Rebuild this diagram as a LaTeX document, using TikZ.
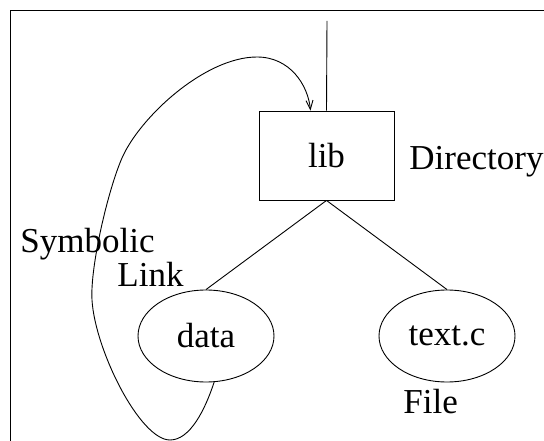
\documentclass[tikz,border=0pt]{standalone}
\usepackage{fontspec}
\setmainfont{Liberation Serif}
\usetikzlibrary{arrows.meta,shapes.geometric}
\begin{document}
\begin{tikzpicture}[x=1pt,y=-1pt,line width=0.9pt,
  every node/.style={font=\fontsize{35}{42}\selectfont},
  dirbox/.style={draw,rectangle,minimum width=135pt,minimum height=89pt,inner sep=0pt},
  fileoval/.style={draw,ellipse,minimum width=136pt,minimum height=92pt,inner sep=0pt},
  caption/.style={anchor=base west,inner sep=0pt},
  link/.style={-{Straight Barb[length=9pt,width=7pt]}}]
  \useasboundingbox (0,0) rectangle (544,441);
  % frame edges
  \draw (10,441) -- (10,10) -- (544,10);

  % tree nodes
  \node[dirbox] (lib) at (326.5,155.5) {lib};
  \node[fileoval] (data) at (206,336) {data};
  \node[fileoval] (textc) at (447,336) {text.c};

  % labels
  \node[caption] (dirlabel) at (409,170) {Directory};
  \node[caption] (symlabel) at (20,252) {Symbolic};
  \node[caption] (linklabel) at (117,287) {Link};
  \node[caption] (filelabel) at (403,413) {File};

  % parent link and children
  \coordinate (up) at (327,21);
  \draw (up) -- (lib.north);
  \draw (lib.south) -- (data.north);
  \draw (lib.south) -- (textc.north);

  % symbolic link loop back to lib
  \coordinate (loopbottom) at (170,440);
  \coordinate (loopleft) at (92,300);
  \coordinate (loopupper) at (122,158);
  \coordinate (looptop) at (257,57);
  \draw[link] (data.-80)
    .. controls (205,410) and (190,440) .. (loopbottom)
    .. controls (140,440) and (95,350) .. (loopleft)
    .. controls (90,267) and (108,190) .. (loopupper)
    .. controls (140,117) and (205,57) .. (looptop)
    .. controls (290,57) and (308,85) .. ([xshift=-16pt]lib.north);
\end{tikzpicture}
\end{document}
